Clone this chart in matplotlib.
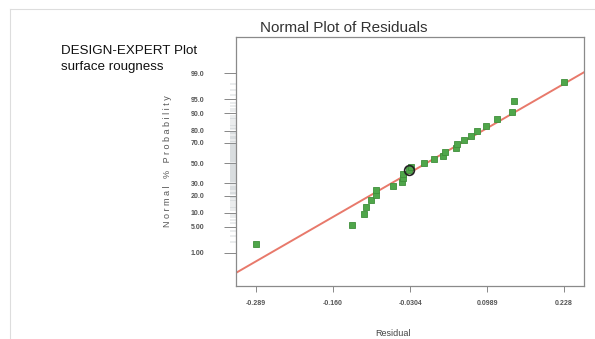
import numpy as np
import matplotlib.pyplot as plt
from matplotlib.ticker import FixedLocator, NullFormatter
from statistics import NormalDist

# residuals, in ascending order
residuals = [-0.289, -0.1278, -0.1076, -0.1048, -0.0959, -0.0880, -0.0875,
             -0.0584, -0.0433, -0.0427, -0.0417, -0.0321, -0.0292, -0.0069,
             0.0104, 0.0255, 0.0284, 0.0468, 0.0490, 0.0608, 0.0715, 0.0821,
             0.0967, 0.1157, 0.1404, 0.1442, 0.228]
highlight = 11  # index of the circled run

# reference line of the plot
fit_mean = -0.0028
fit_sd = 0.1126

x_ticks = [-0.289, -0.160, -0.0304, 0.0989, 0.228]
x_tick_labels = ["-0.289", "-0.160", "-0.0304", "0.0989", "0.228"]
y_ticks = [1, 5, 10, 20, 30, 50, 70, 80, 90, 95, 99]
y_tick_labels = ["1.00", "5.00", "10.0", "20.0", "30.0", "50.0", "70.0",
                 "80.0", "90.0", "95.0", "99.0"]

nd = NormalDist()
n = len(residuals)
z = [nd.inv_cdf((i - 0.5) / n) for i in range(1, n + 1)]

plt.rcParams["font.family"] = ["Liberation Sans", "DejaVu Sans"]

fig = plt.figure(figsize=(5.95, 3.39), dpi=100)
ax = fig.add_axes([236 / 595, 1 - 286 / 339, 348 / 595, 249 / 339])

xlim = (-0.3226, 0.2616)
ax.plot(xlim, [(v - fit_mean) / fit_sd for v in xlim], color="#e8796b",
        lw=1.4, zorder=2)
ax.plot(residuals, z, "s", ms=5, color="#4fa64a", mec="#3f8f3a", mew=0.6,
        zorder=3)
ax.plot(residuals[highlight], z[highlight], "o", ms=7, mfc="none",
        mec="#222222", mew=1.2, zorder=4)

ax.set_xlim(*xlim)
ax.set_ylim(-3.18, 3.26)

ax.set_xticks(x_ticks)
ax.set_xticklabels(x_tick_labels)
ax.set_yticks([nd.inv_cdf(p / 100) for p in y_ticks])
ax.set_yticklabels(y_tick_labels)
ax.yaxis.set_minor_locator(FixedLocator([nd.inv_cdf(p / 100) for p in range(1, 100)]))
ax.yaxis.set_minor_formatter(NullFormatter())

ax.tick_params(axis="x", direction="out", length=4, width=0.7, pad=6,
               labelsize=5, colors="#888888", labelcolor="#555555")
ax.tick_params(axis="y", which="major", direction="out", length=9, width=0.7,
               pad=14, labelsize=5, colors="#888888", labelcolor="#555555")
ax.tick_params(axis="y", which="minor", direction="out", length=4, width=0.3,
               colors="#9aa4ac")
for lab in ax.get_xticklabels() + ax.get_yticklabels():
    lab.set_fontweight("bold")
ax.tick_params(right=False, top=False)
for sp in ax.spines.values():
    sp.set_color("#8a8a8a")
    sp.set_linewidth(0.9)

fig.text(344 / 595, 1 - 28 / 339, "Normal Plot of Residuals", ha="center",
         va="center", fontsize=11, color="#333333")
fig.text(393 / 595, 1 - 334 / 339, "Residual", ha="center", va="center",
         fontsize=6.5, color="#444444")
fig.text(168 / 595, 1 - 161 / 339, " ".join("Normal % Probability"),
         rotation=90, ha="center", va="center", fontsize=6.5, color="#555555")

fig.text(61 / 595, 1 - 51 / 339, "DESIGN-EXPERT Plot", ha="left", va="center",
         fontsize=9.6, color="#111111")
fig.text(61 / 595, 1 - 67 / 339, "surface rougness", ha="left", va="center",
         fontsize=9.6, color="#111111")

# faint frame around the picture
fig.add_artist(plt.Line2D([10 / 595, 1], [1 - 9 / 339] * 2, color="#dddddd",
                          lw=0.8))
fig.add_artist(plt.Line2D([10 / 595] * 2, [0, 1 - 9 / 339], color="#dddddd",
                          lw=0.8))

fig.savefig("out.png", dpi=100)
